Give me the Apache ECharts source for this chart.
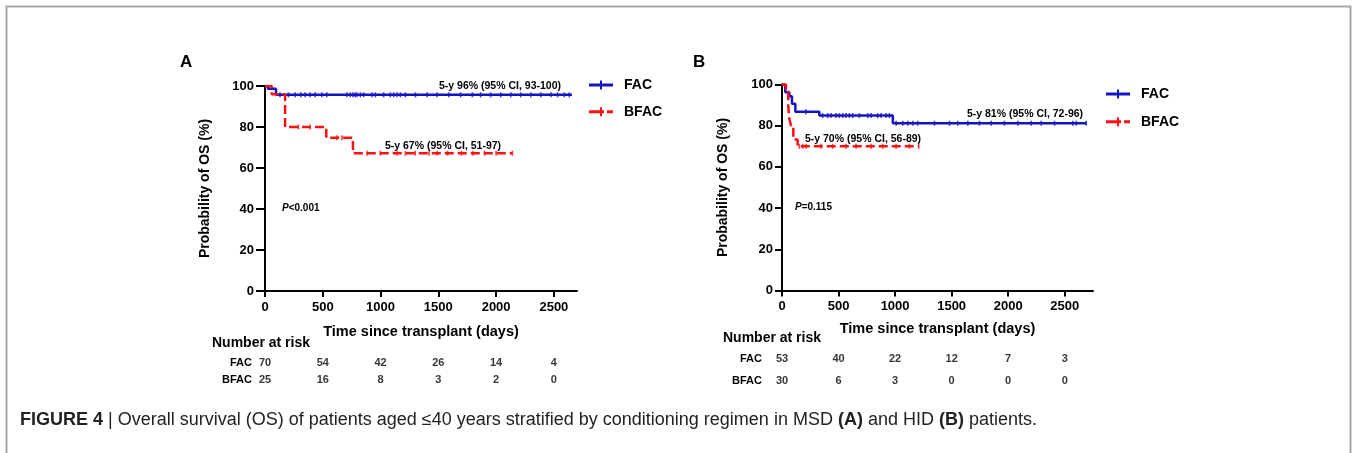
<!DOCTYPE html>
<html>
<head>
<meta charset="utf-8">
<script src="https://cdn.jsdelivr.net/npm/echarts@6/dist/echarts.min.js"></script>
<style>
  html, body { margin: 0; padding: 0; background: #fff; }
  #main { width: 1352px; height: 453px; }
</style>
</head>
<body>
<div id="main"></div>
<script>
// panel A (MSD) Kaplan-Meier steps: value holds from time onward
const timeA_FAC = [0, 25, 95, 2656];
const survA_FAC = [100, 98.6, 95.7, 95.7];
const timeA_BFAC = [0, 58, 174, 530, 761, 2141];
const survA_BFAC = [100, 96, 80, 74.7, 67.2, 67.2];

// censor ticks A
const censA_FAC = [130, 203, 260, 310, 347, 390, 434, 492, 535, 709, 738, 761, 781, 796, 825, 854, 926, 955,
  1027, 1085, 1114, 1143, 1172, 1215, 1302, 1403, 1490, 1591, 1693, 1794, 1866, 1953, 2040, 2127, 2213,
  2300, 2387, 2474, 2532, 2590, 2633];
const censA_BFAC = [289, 390, 622, 666, 883, 998, 1143, 1215, 1300, 1420, 1490, 1580, 1700, 1800, 1900, 2000, 2141];

// panel B (HID)
const timeB_FAC = [0, 29, 65, 88, 118, 330, 980, 2690];
const survB_FAC = [100, 96.2, 94.3, 90.6, 86.8, 84.9, 81.2, 81.2];
const timeB_BFAC = [0, 35, 55, 65, 80, 100, 138, 1209];
const survB_BFAC = [100, 96.7, 90, 83.3, 80, 73.3, 70, 70];

const censB_FAC = [212, 359, 404, 433, 478, 507, 537, 566, 596, 625, 684, 758, 787, 846, 876, 920, 950,
  1009, 1068, 1112, 1156, 1200, 1348, 1481, 1554, 1643, 1746, 1850, 1967, 2085, 2203, 2292, 2410, 2572, 2602, 2690];
const censB_BFAC = [153, 183, 212, 345, 448, 566, 655, 787, 891, 1009, 1127, 1209];

// number at risk
const riskTimes = [0, 500, 1000, 1500, 2000, 2500];
const riskA_FAC = [70, 54, 42, 26, 14, 4];
const riskA_BFAC = [25, 16, 8, 3, 2, 0];
const riskB_FAC = [53, 40, 22, 12, 7, 3];
const riskB_BFAC = [30, 6, 3, 0, 0, 0];

const xTicks = [0, 500, 1000, 1500, 2000, 2500];

const BLUE = '#1414c0';
const RED = '#ff1010';
const FONT = '"Liberation Sans", Arial, sans-serif';

function steps(t, s) { return t.map((v, i) => [v, s[i]]); }
function survAt(t, s, x) {
  let v = s[0];
  for (let i = 0; i < t.length; i++) if (t[i] <= x) v = s[i];
  return v;
}
function censors(c, t, s) { return c.map(x => [x, survAt(t, s, x)]); }
function riskRow(row, vals) { return riskTimes.map((x, i) => [x, row, vals[i]]); }

const chart = echarts.init(document.getElementById('main'), null, { renderer: 'canvas' });

function mainX(idx, max, nameGap, tickLen, margin) {
  return {
    gridIndex: idx, type: 'value', min: 0, max: max,
    name: 'Time since transplant (days)', nameLocation: 'middle', nameGap: nameGap,
    nameTextStyle: { fontFamily: FONT, fontWeight: 'bold', fontSize: 14.5, color: '#000' },
    axisLine: { lineStyle: { color: '#000', width: 2 } },
    axisTick: { show: true, length: tickLen, lineStyle: { color: '#000', width: 2 }, customValues: xTicks },
    axisLabel: { fontFamily: FONT, fontWeight: 'bold', fontSize: 13, color: '#000', margin: margin,
      customValues: xTicks, formatter: v => String(v) },
    splitLine: { show: false }
  };
}
function mainY(idx, nameGap, tickLen, margin) {
  return {
    gridIndex: idx, type: 'value', min: 0, max: 100, interval: 20,
    name: 'Probability of OS (%)', nameLocation: 'middle', nameGap: nameGap,
    nameTextStyle: { fontFamily: FONT, fontWeight: 'bold', fontSize: 14, color: '#000' },
    axisLine: { show: true, lineStyle: { color: '#000', width: 2 } },
    axisTick: { show: true, length: tickLen, lineStyle: { color: '#000', width: 2 } },
    axisLabel: { fontFamily: FONT, fontWeight: 'bold', fontSize: 13, color: '#000', margin: margin },
    splitLine: { show: false }
  };
}
function riskX(idx, max) {
  return { gridIndex: idx, type: 'value', min: 0, max: max, show: false };
}
function riskY(idx, margin) {
  return {
    gridIndex: idx, type: 'category', data: ['FAC', 'BFAC'], inverse: true,
    axisLine: { show: false }, axisTick: { show: false }, splitLine: { show: false },
    axisLabel: { fontFamily: FONT, fontWeight: 'bold', fontSize: 11, color: '#000', margin: margin }
  };
}
function kmLine(name, xi, data, color, dashed) {
  return {
    name: name, type: 'line', xAxisIndex: xi, yAxisIndex: xi, step: 'end', data: data,
    symbol: 'none', color: color,
    lineStyle: { color: color, width: 2.5, type: dashed ? [9, 4] : 'solid' },
    silent: true, z: 3
  };
}
function censorSeries(xi, data, color) {
  return {
    name: 'censor', type: 'scatter', xAxisIndex: xi, yAxisIndex: xi, data: data,
    symbol: 'rect', symbolSize: [1.6, 5], itemStyle: { color: color }, silent: true, z: 4
  };
}
function riskSeries(xi, data) {
  return {
    name: 'risk', type: 'scatter', xAxisIndex: xi, yAxisIndex: xi, data: data,
    symbolSize: 0, silent: true,
    label: { show: true, position: 'inside', formatter: p => p.value[2],
      fontFamily: FONT, fontWeight: 'bold', fontSize: 11, color: '#000' }
  };
}
const ICON_SOLID = 'path://M0,3h24v3h-24z M11,0h2v9h-2z';
const ICON_DASH = 'path://M0,3h15v3h-15z M18,3h6v3h-6z M11,0h2v9h-2z';
function legendAt(left, top, gap) {
  return {
    left: left, top: top, orient: 'vertical', itemWidth: 24, itemHeight: 9, itemGap: gap, padding: 0,
    data: [{ name: 'FAC', icon: ICON_SOLID }, { name: 'BFAC', icon: ICON_DASH }], selectedMode: false,
    textStyle: { fontFamily: FONT, fontWeight: 'bold', fontSize: 14, color: '#000', padding: [0, 0, 0, 6] }
  };
}
function txt(x, y, text, size, opts) {
  return {
    type: 'text', x: x, y: y, silent: true,
    style: Object.assign({ text: text, fontFamily: FONT, fontSize: size, fontWeight: 'bold', fill: '#000',
      align: 'left', verticalAlign: 'middle' }, opts || {})
  };
}
const italicP = { i: { fontStyle: 'italic', fontWeight: 'bold', fontSize: 10, fontFamily: FONT } };

const option = {
  animation: false,
  backgroundColor: '#fff',
  grid: [
    { left: 265, top: 86, width: 312, height: 205 },
    { left: 782, top: 84.5, width: 311, height: 206 },
    { left: 265, top: 354.5, width: 312, height: 34 },
    { left: 782, top: 348.5, width: 311, height: 43.4 }
  ],
  xAxis: [mainX(0, 2700, 33, 6, 10), mainX(1, 2750, 31, 6, 9), riskX(2, 2700), riskX(3, 2750)],
  yAxis: [mainY(0, 53, 9, 11), mainY(1, 52, 7, 9), riskY(2, 13), riskY(3, 20)],
  legend: [legendAt(589, 78, 12.7), legendAt(1106, 87, 13.7)],
  series: [
    kmLine('FAC', 0, steps(timeA_FAC, survA_FAC), BLUE, false),
    censorSeries(0, censors(censA_FAC, timeA_FAC, survA_FAC), BLUE),
    kmLine('BFAC', 0, steps(timeA_BFAC, survA_BFAC), RED, true),
    censorSeries(0, censors(censA_BFAC, timeA_BFAC, survA_BFAC), RED),
    kmLine('FAC', 1, steps(timeB_FAC, survB_FAC), BLUE, false),
    censorSeries(1, censors(censB_FAC, timeB_FAC, survB_FAC), BLUE),
    kmLine('BFAC', 1, steps(timeB_BFAC, survB_BFAC), RED, true),
    censorSeries(1, censors(censB_BFAC, timeB_BFAC, survB_BFAC), RED),
    riskSeries(2, riskRow('FAC', riskA_FAC).concat(riskRow('BFAC', riskA_BFAC))),
    riskSeries(3, riskRow('FAC', riskB_FAC).concat(riskRow('BFAC', riskB_BFAC)))
  ],
  graphic: [
    // frame
    { type: 'polyline', silent: true, shape: { points: [[6.5, 453], [6.5, 6.5], [1350.5, 6.5], [1350.5, 453]] },
      style: { stroke: '#a8a8a8', lineWidth: 2, fill: null } },
    txt(180, 62, 'A', 17),
    txt(693, 62, 'B', 17),
    txt(500, 86, '5-y 96% (95% CI, 93-100)', 10.5, { align: 'center' }),
    txt(443, 146, '5-y 67% (95% CI, 51-97)', 10.5, { align: 'center' }),
    txt(1025, 114, '5-y 81% (95% CI, 72-96)', 10.5, { align: 'center' }),
    txt(863, 139, '5-y 70% (95% CI, 56-89)', 10.5, { align: 'center' }),
    txt(282, 208, '{i|P}<0.001', 10, { rich: italicP }),
    txt(795, 207, '{i|P}=0.115', 10, { rich: italicP }),
    txt(212, 343, 'Number at risk', 14),
    txt(723, 338.5, 'Number at risk', 14),
    txt(20, 420, '{b|FIGURE 4} | Overall survival (OS) of patients aged \u226440 years stratified by conditioning regimen in MSD {b|(A)} and HID {b|(B)} patients.', 18,
      { fontWeight: 'normal', fill: '#222', rich: { b: { fontWeight: 'bold', fontSize: 18, fontFamily: FONT, fill: '#222' } } })
  ]
};

chart.setOption(option);
</script>
</body>
</html>
